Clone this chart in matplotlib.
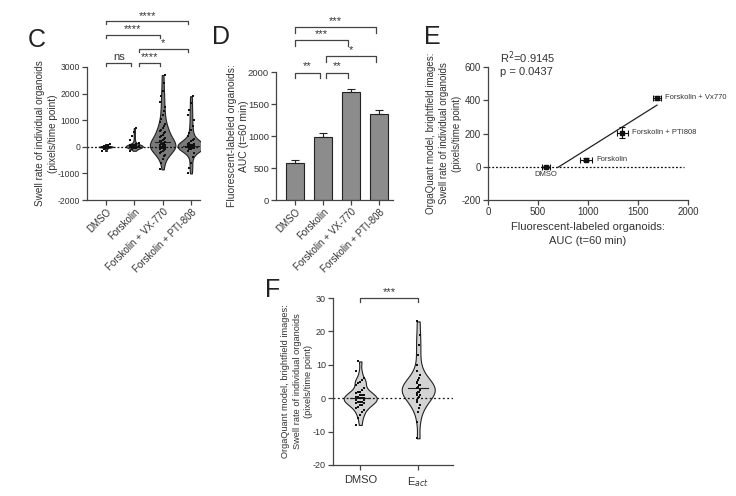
import numpy as np
import matplotlib
matplotlib.use("Agg")
import matplotlib.pyplot as plt

# panel C: swell rate per organoid (pixels/time point)
groups_c = ["DMSO", "Forskolin", "Forskolin + VX-770", "Forskolin + PTI-808"]
dmso_c = [-150, -80, -50, -30, -20, -10, -5, 0, 0, 5, 10, 20, 30, 50, 100]
fsk_c = [-150, -100, -60, -40, -20, -10, 0, 0, 5, 10, 15, 20, 25, 30, 40, 50, 60, 80,
         100, 150, 250, 400, 550, 700]
vx_c = [-850, -600, -450, -350, -300, -250, -200, -150, -120, -100, -80, -50, -30, -10,
        0, 0, 10, 20, 40, 60, 80, 100, 120, 150, 180, 200, 230, 260, 300, 340, 380, 420,
        460, 500, 550, 600, 650, 700, 780, 850, 950, 1050, 1200, 1350, 1500, 1700, 1900,
        2100, 2400, 2700]
pti_c = [-1000, -800, -600, -400, -250, -150, -100, -70, -50, -30, -20, -10, 0, 0, 0, 5,
         10, 15, 20, 30, 40, 50, 60, 80, 100, 120, 150, 200, 250, 300, 400, 500, 650, 800,
         1000, 1200, 1400, 1650, 1900]
sig_c = [(0, 3, 4720, "****"), (0, 2, 4200, "****"), (1, 3, 3680, "*"),
         (0, 1, 3150, "ns"), (1, 2, 3150, "****")]

# panel D: AUC bars
auc_mean = [580, 980, 1690, 1340]
auc_err = [40, 65, 45, 65]
sig_d = [(0, 3, 2700, "***"), (0, 2, 2500, "***"), (1, 3, 2250, "*"),
         (0, 1, 1990, "**"), (1, 2, 1990, "**")]

# panel E: correlation
e_x = [580, 980, 1340, 1690]
e_y = [0, 42, 205, 415]
e_xerr = [40, 60, 55, 40]
e_yerr = [5, 8, 32, 12]
e_names = ["DMSO", "Forskolin", "Forskolin + PTI808", "Forskolin + Vx770"]

# panel F
groups_f = ["DMSO", "E$_{act}$"]
dmso_f = [-8, -6, -5, -4, -3.5, -3, -2.5, -2, -2, -1.5, -1.5, -1, -1, -1, -0.5, -0.5, 0, 0,
          0, 0, 0.5, 0.5, 1, 1, 1, 1.5, 2, 2, 2.5, 3, 4, 4.5, 5, 5.5, 6, 8, 11]
eact_f = [-12, -7, -4, -3, -2, -1, -0.5, 0, 0.5, 1, 1, 1.5, 2, 2, 2.5, 3, 3, 3.5, 4, 4,
          4.5, 5, 5.5, 6, 7, 8, 10, 13, 16, 19, 23]

plt.rcParams["font.family"] = ["Liberation Sans", "DejaVu Sans"]
plt.rcParams["font.size"] = 7
plt.rcParams["axes.unicode_minus"] = False
txt = "#333333"

fig = plt.figure(figsize=(7.36, 4.96), dpi=100)


def px(l, t, r, b):
    return [l / 736, 1 - b / 496, (r - l) / 736, (b - t) / 496]


def style(ax, ls=6.5):
    for s in ["top", "right"]:
        ax.spines[s].set_visible(False)
    for s in ["left", "bottom"]:
        ax.spines[s].set_color("#444444")
        ax.spines[s].set_linewidth(0.9)
    ax.tick_params(direction="out", length=3.5, width=0.9, colors="#444444",
                   labelcolor=txt, labelsize=ls, pad=1.5)


def bracket(ax, x1, x2, y, h, label, fs=8):
    ax.plot([x1, x1, x2, x2], [y - h, y, y, y - h], color="#444444", lw=0.9, clip_on=False)
    ax.text((x1 + x2) / 2, y + h * 0.2, label, ha="center", va="bottom", fontsize=fs,
            color=txt, clip_on=False)


def violins(ax, data, widths, face, dot_size, spread, bw):
    pos = np.arange(len(data))
    parts = ax.violinplot(data, positions=pos, widths=widths, showextrema=False,
                          points=300, bw_method=bw)
    for body in parts["bodies"]:
        body.set_facecolor(face)
        body.set_edgecolor("#222222")
        body.set_linewidth(0.8)
        body.set_alpha(1)
    offs = np.array([-1, -0.5, 0, 0.5, 1])
    for i, d in enumerate(data):
        d = np.array(d, dtype=float)
        xo = offs[np.arange(len(d)) % 5] * widths[i] * spread[i]
        ax.scatter(pos[i] + xo, d, s=dot_size, marker="s", color="#111111", zorder=3,
                   linewidths=0)
        ax.plot([pos[i] - widths[i] * 0.3, pos[i] + widths[i] * 0.3],
                [np.median(d)] * 2, color="#222222", lw=0.8, zorder=2)


ylab_e = ("OrgaQuant model, brightfield images:\nSwell rate of individual organoids\n"
          "(pixels/time point)")

# ---- C
axc = fig.add_axes(px(87, 67, 200, 200))
violins(axc, [dmso_c, fsk_c, vx_c, pti_c], [0.5, 0.6, 0.9, 0.95], "#7a7a7a", 3,
        [0.3, 0.25, 0.1, 0.12], 0.3)
axc.axhline(0, color="#111111", lw=0.9, ls=(0, (1.5, 1.5)), zorder=1)
axc.set_xlim(-0.67, 3.32)
axc.set_ylim(-2000, 3000)
axc.set_yticks([-2000, -1000, 0, 1000, 2000, 3000])
axc.set_xticks(range(4))
style(axc, 6.2)
axc.set_xticklabels(groups_c, rotation=45, ha="right", rotation_mode="anchor", fontsize=7)
axc.set_ylabel("Swell rate of individual organoids\n(pixels/time point)", fontsize=7.2,
               color=txt, linespacing=1.35)
axc.yaxis.set_label_coords(-0.26, 0.5)
for a, b, y, lab in sig_c:
    bracket(axc, a + 0.15 * (a > 0), b - 0.1, y, 120, lab)

# ---- D
axd = fig.add_axes(px(276, 72, 393, 200))
axd.bar(range(4), auc_mean, width=0.62, color="#8c8c8c", edgecolor="#222222",
        linewidth=0.8, zorder=2)
axd.errorbar(range(4), auc_mean, yerr=[[0] * 4, auc_err], fmt="none", ecolor="#222222",
             elinewidth=0.8, capsize=3, capthick=0.8, zorder=3)
axd.set_xlim(-0.68, 3.5)
axd.set_ylim(0, 2000)
axd.set_yticks([0, 500, 1000, 1500, 2000])
axd.set_xticks(range(4))
style(axd, 6.8)
axd.set_xticklabels(groups_c, rotation=45, ha="right", rotation_mode="anchor", fontsize=7)
axd.set_ylabel("Fluorescent-labeled organoids:\nAUC (t=60 min)", fontsize=7.5, color=txt,
               linespacing=1.3)
axd.yaxis.set_label_coords(-0.23, 0.5)
for a, b, y, lab in sig_d:
    bracket(axd, a + 0.1 * (a > 0), b - 0.1, y, 90, lab)

# ---- E
axe = fig.add_axes(px(488, 67, 688, 200))
axe.axhline(0, xmin=0, xmax=0.98, color="#111111", lw=0.9, ls=(0, (1.5, 1.5)), zorder=1)
slope, icpt = np.polyfit(e_x, e_y, 1)
xl = np.array([700, e_x[-1]])
axe.plot(xl, slope * xl + icpt, color="#222222", lw=0.9)
axe.errorbar(e_x, e_y, xerr=e_xerr, yerr=e_yerr, fmt="s", ms=3.5, color="#111111",
             elinewidth=0.8, capsize=2, capthick=0.8, zorder=3)
for xv, yv, ex, name in zip(e_x, e_y, e_xerr, e_names):
    if name == "DMSO":
        axe.text(xv, yv - 25, name, ha="center", va="top", fontsize=5.5, color=txt)
    else:
        axe.text(xv + ex + 40, yv, name, ha="left", va="center", fontsize=5.5, color=txt)
axe.text(0.06, 1.03, "R$^2$=0.9145\np = 0.0437", transform=axe.transAxes, ha="left",
         va="center", fontsize=8, color=txt, linespacing=1.2)
axe.set_xlim(0, 2000)
axe.set_ylim(-200, 600)
axe.set_xticks([0, 500, 1000, 1500, 2000])
axe.set_yticks([-200, 0, 200, 400, 600])
axe.set_xlabel("Fluorescent-labeled organoids:\nAUC (t=60 min)", fontsize=8, color=txt,
               linespacing=1.4)
axe.set_ylabel(ylab_e, fontsize=7, color=txt, linespacing=1.35)
axe.yaxis.set_label_coords(-0.13, 0.5)
style(axe, 7)

# ---- F
axf = fig.add_axes(px(333, 298, 453, 465))
violins(axf, [dmso_f, eact_f], [0.57, 0.57], "#d4d4d4", 3, [0.12, 0.05], 0.3)
axf.axhline(0, color="#111111", lw=0.9, ls=(0, (1.5, 2)), zorder=1)
axf.set_xlim(-0.47, 1.6)
axf.set_ylim(-20, 30)
axf.set_yticks([-20, -10, 0, 10, 20, 30])
axf.set_xticks(range(2))
style(axf)
axf.set_xticklabels(groups_f, fontsize=8)
axf.tick_params(axis="x", pad=4)
axf.set_ylabel(ylab_e, fontsize=6.7, color=txt, linespacing=1.3)
axf.yaxis.set_label_coords(-0.17, 0.5)
bracket(axf, 0, 1, 30, 1.2, "***")

for lab, x, y in [("C", 37, 40), ("D", 221, 37), ("E", 432, 37), ("F", 273, 290)]:
    fig.text(x / 736, 1 - y / 496, lab, fontsize=18, ha="center", va="center", color="#222222")

fig.savefig("out.png", dpi=100)
